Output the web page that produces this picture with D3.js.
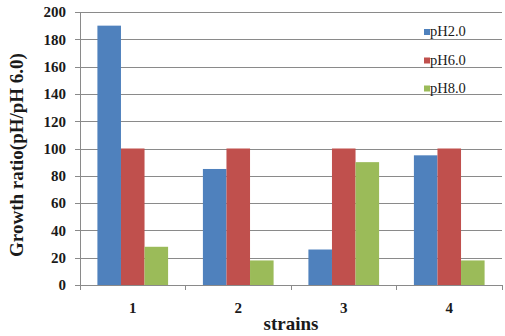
<!DOCTYPE html>
<html>
<head>
<meta charset="utf-8">
<script src="https://cdn.jsdelivr.net/npm/d3@7"></script>
<style>
  html, body { margin: 0; padding: 0; background: #fff; }
  svg { display: block; }
</style>
</head>
<body>
<svg id="chart" width="505" height="336"></svg>
<script>
// Growth ratio of four strains at three pH levels (relative to pH 6.0)
const strains = ["1", "2", "3", "4"];
const seriesNames = ["pH2.0", "pH6.0", "pH8.0"];
const pH20 = [190, 85, 26, 95];
const pH60 = [100, 100, 100, 100];
const pH80 = [28, 18, 90, 18];
const yTicks = [0, 20, 40, 60, 80, 100, 120, 140, 160, 180, 200];
const colors = ["#4F81BD", "#C0504D", "#9BBB59"];

const seriesValues = [pH20, pH60, pH80];
const table = strains.map((s, i) => ({
  strain: s,
  values: seriesNames.map((n, k) => ({ name: n, value: seriesValues[k][i], k }))
}));

const serif = "'Liberation Serif', 'Times New Roman', serif";
const ink = "#1a1a1a";
const axisGrey = "#8a8a8a";

const svg = d3.select("#chart");
const m = { left: 80, right: 3, top: 12, bottom: 51 };
const W = 505, H = 336;

const x = d3.scaleBand().domain(strains).range([m.left, W - m.right]);
// the three bars of a strain fill the middle two thirds of its band
const x1 = d3.scaleBand().domain(seriesNames)
  .range([x.bandwidth() * 0.165, x.bandwidth() * 0.835])
  .paddingInner(0).paddingOuter(0);
const y = d3.scaleLinear().domain([0, 200]).range([H - m.bottom, m.top]);

// horizontal gridlines
svg.append("g")
  .selectAll("line")
  .data(yTicks.filter(d => d > 0))
  .join("line")
  .attr("x1", m.left).attr("x2", W - m.right)
  .attr("y1", d => Math.round(y(d)) + 0.5).attr("y2", d => Math.round(y(d)) + 0.5)
  .attr("stroke", axisGrey).attr("stroke-width", 1);

// bars
svg.append("g")
  .selectAll("g")
  .data(table)
  .join("g")
  .attr("transform", d => `translate(${x(d.strain)},0)`)
  .selectAll("rect")
  .data(d => d.values)
  .join("rect")
  .attr("x", d => x1(d.name))
  .attr("width", x1.bandwidth())
  .attr("y", d => y(d.value))
  .attr("height", d => y(0) - y(d.value))
  .attr("fill", d => colors[d.k]);

// y axis
const yAxis = svg.append("g")
  .attr("transform", `translate(${m.left},0)`)
  .call(d3.axisLeft(y).tickValues(yTicks).tickSize(5).tickPadding(9));
yAxis.selectAll("path, line").attr("stroke", axisGrey).attr("shape-rendering", "crispEdges");
yAxis.selectAll("text")
  .attr("font-family", serif)
  .attr("font-weight", "bold").attr("font-size", 15).attr("fill", ink);

// x axis with ticks at category boundaries
const xAxisG = svg.append("g").attr("transform", `translate(0,${y(0)})`);
xAxisG.append("line")
  .attr("x1", m.left).attr("x2", W - m.right)
  .attr("stroke", axisGrey).attr("shape-rendering", "crispEdges");
const bounds = strains.map(s => x(s)).concat([x(strains[strains.length - 1]) + x.bandwidth()]);
xAxisG.selectAll("line.tk")
  .data(bounds)
  .join("line")
  .attr("class", "tk")
  .attr("x1", d => d).attr("x2", d => d)
  .attr("y1", 0).attr("y2", 5)
  .attr("stroke", axisGrey).attr("shape-rendering", "crispEdges");
xAxisG.selectAll("text")
  .data(strains)
  .join("text")
  .attr("x", d => x(d) + x.bandwidth() / 2)
  .attr("y", 28)
  .attr("text-anchor", "middle")
  .attr("font-family", serif)
  .attr("font-weight", "bold").attr("font-size", 15).attr("fill", ink)
  .text(d => d);

// axis titles
svg.append("text")
  .attr("x", 291).attr("y", 330)
  .attr("text-anchor", "middle")
  .attr("font-family", serif)
  .attr("font-weight", "bold").attr("font-size", 19).attr("fill", ink)
  .text("strains");

svg.append("text")
  .attr("transform", "translate(23,155) rotate(-90)")
  .attr("text-anchor", "middle")
  .attr("font-family", serif)
  .attr("font-weight", "bold").attr("font-size", 19).attr("fill", ink)
  .text("Growth ratio(pH/pH 6.0)");

// legend
const legend = svg.append("g").attr("transform", "translate(424,0)");
const legendBaseline = [36, 64.5, 92.5];
const li = legend.selectAll("g")
  .data(seriesNames)
  .join("g")
  .attr("transform", (d, i) => `translate(0,${legendBaseline[i]})`);
li.append("rect")
  .attr("x", 0).attr("y", -7).attr("width", 6).attr("height", 6)
  .attr("fill", (d, i) => colors[i]);
li.append("text")
  .attr("x", 6).attr("y", 0)
  .attr("font-family", serif)
  .attr("font-size", 14.5).attr("fill", ink)
  .text(d => d);
</script>
</body>
</html>
